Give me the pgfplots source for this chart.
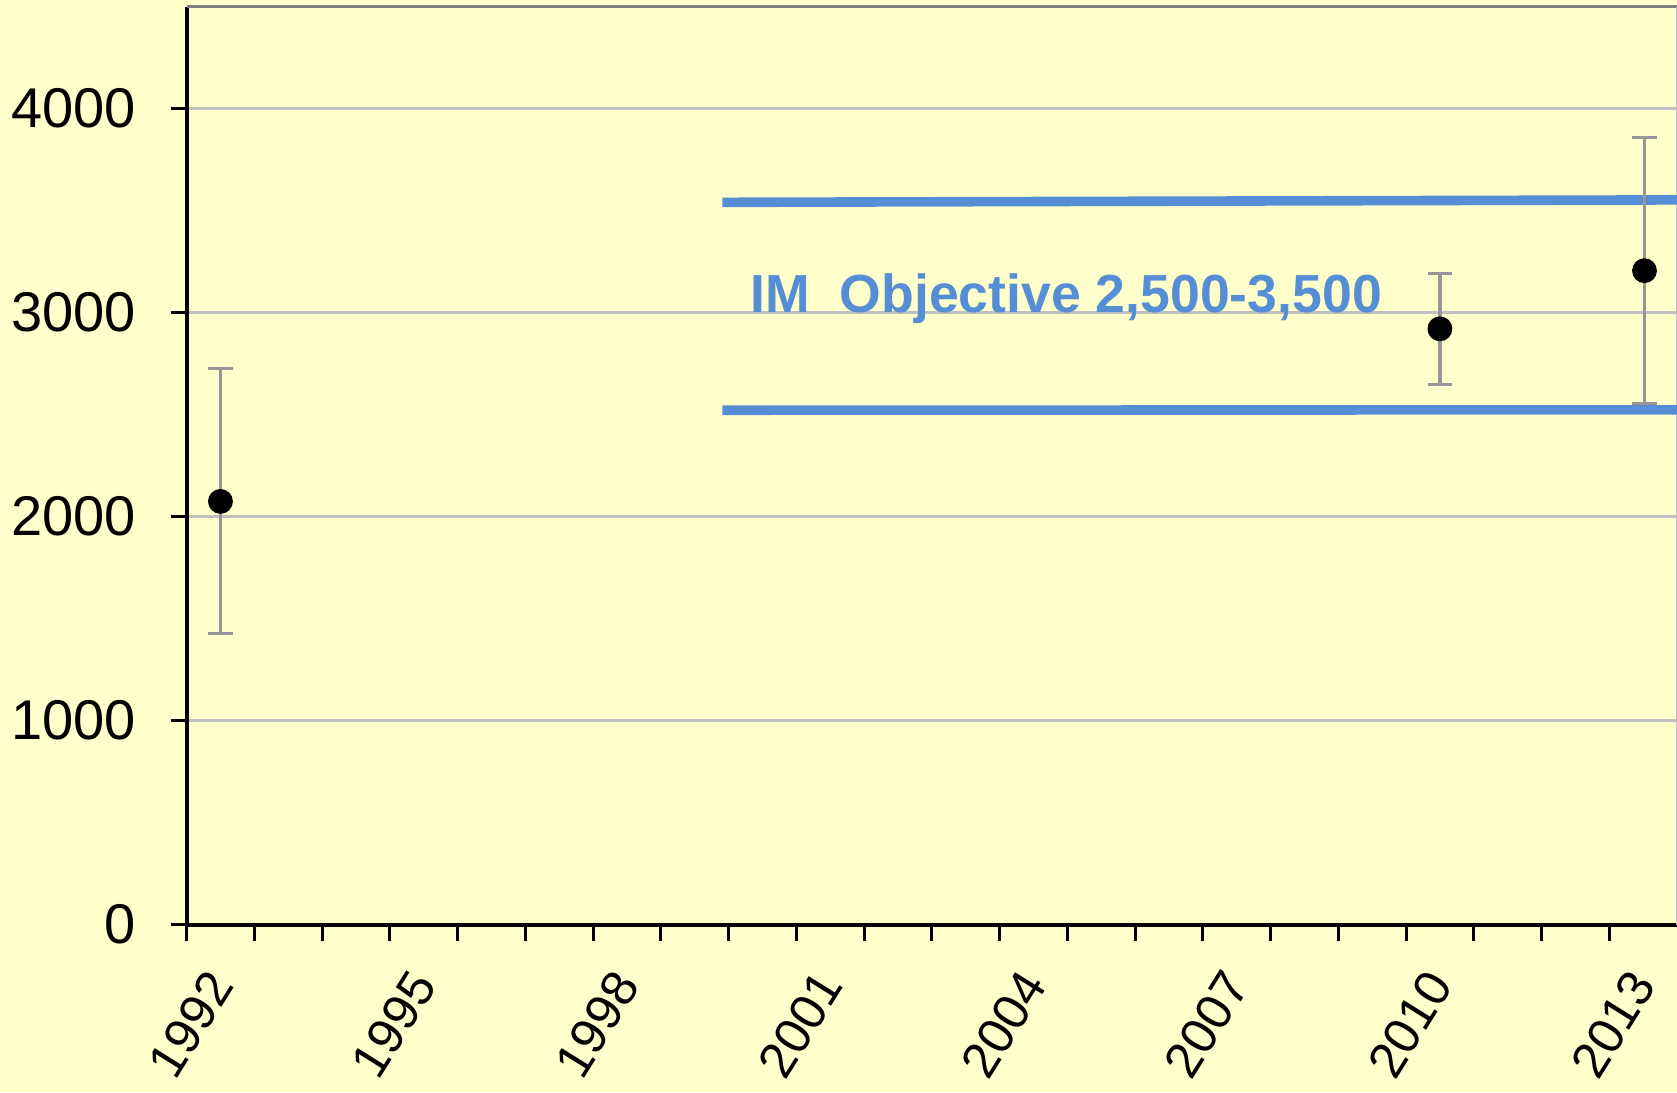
\documentclass[border=0pt]{standalone}
\usepackage{fontspec}
\setmainfont{Liberation Sans}
\usepackage{pgfplots}
\pgfplotsset{compat=1.18}
\definecolor{bg}{HTML}{FFFFCC}
\definecolor{objblue}{HTML}{558ED5}
\definecolor{errgray}{HTML}{969696}
\definecolor{gridgray}{HTML}{C0C0C0}
\definecolor{bordergray}{HTML}{808080}
\begin{document}
\begin{tikzpicture}
\fill[bg] (-46.65pt,-41.875pt) rectangle (372.6pt,231.125pt);
\begin{axis}[
  at={(0,0)}, anchor=south west,
  scale only axis, width=372.6pt, height=229.5pt,
  xmin=1992, xmax=2014, ymin=0, ymax=4500,
  clip=false,
  axis x line*=bottom, axis y line*=left,
  axis line style={black, line width=1pt, -},
  tick align=outside,
  major tick length=4pt,
  minor tick length=4pt,
  tick style={black, line width=0.75pt},
  xtick={1992,1995,1998,2001,2004,2007,2010,2013},
  minor xtick={1993,1994,1996,1997,1999,2000,2002,2003,2005,2006,2008,2009,2011,2012},
  xticklabels={1992,1995,1998,2001,2004,2007,2010,2013},
  ytick={0,1000,2000,3000,4000},
  ymajorgrids,
  grid style={gridgray, line width=0.75pt},
  minor grid style={draw=none},
  /pgf/number format/assume math mode=true,
  /pgf/number format/1000 sep={},
  yticklabel style={font=\fontsize{14}{16}\selectfont, anchor=east, inner sep=0pt, xshift=-8.5pt},
  xticklabel style={font=\fontsize{12.6}{15}\selectfont, anchor=center, inner sep=0pt, xshift=1pt, yshift=-21pt, rotate=58},
]
\draw[bordergray, line width=0.75pt] (rel axis cs:0,1) -- (rel axis cs:1,1);
\draw[gridgray, line width=0.75pt] (rel axis cs:1,0) -- (rel axis cs:1,1);
\addplot[objblue, line width=2.4pt, forget plot] coordinates {(1999.91,3540) (2014,3552)};
\addplot[objblue, line width=2.4pt, forget plot] coordinates {(1999.91,2521) (2014,2523)};
\addplot[only marks, mark=*, mark size=2.9pt, mark options={black, fill=black},
  error bars/.cd, y dir=both, y explicit,
  error bar style={errgray, line width=0.8pt},
  error mark options={rotate=90, mark size=3.1pt, errgray, line width=0.8pt}]
  coordinates {
  (1992.5,2074) += (0,653) -= (0,649)
  (2010.5,2920) += (0,270) -= (0,271)
  (2013.52,3205) += (0,651) -= (0,651)
  };
\node[anchor=base west, inner sep=0pt, text=objblue, font=\bfseries\fontsize{13.4}{15}\selectfont] at (axis cs:2000.31,3000) {IM\ \ Objective 2,500-3,500};
\end{axis}
\pgfresetboundingbox
\path[use as bounding box] (-46.65pt,-41.875pt) rectangle (372.6pt,231.125pt);
\end{tikzpicture}
\end{document}
